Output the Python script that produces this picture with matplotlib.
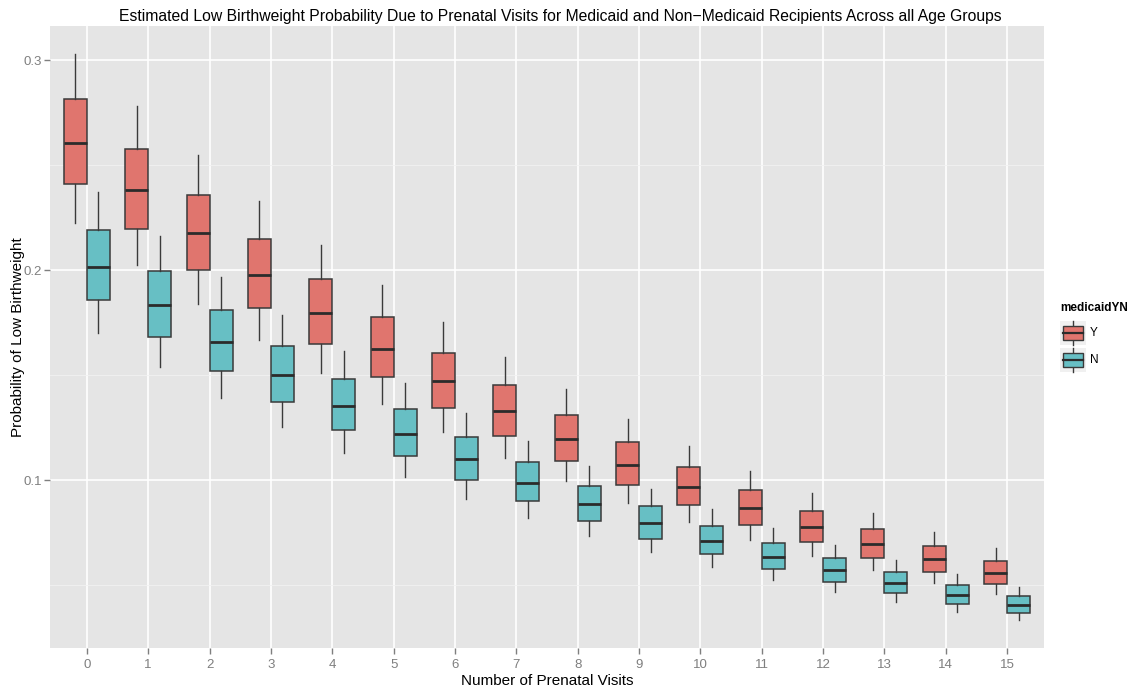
import numpy as np
import matplotlib
matplotlib.use("Agg")
import matplotlib.pyplot as plt
from matplotlib.patches import Rectangle, Patch
from matplotlib.lines import Line2D
from matplotlib.legend_handler import HandlerBase

plt.rcParams['font.family'] = ['Liberation Sans', 'DejaVu Sans']

visits = list(range(16))

# Medicaid = Y : whisker low, Q1, median, Q3, whisker high
y_wlo = [0.2225, 0.2025, 0.1840, 0.1667, 0.1508, 0.1362, 0.1227, 0.1106,
         0.0994, 0.0890, 0.0798, 0.0714, 0.0640, 0.0571, 0.0511, 0.0455]
y_q1 = [0.2411, 0.2198, 0.2001, 0.1818, 0.1646, 0.1489, 0.1343, 0.1211,
        0.1090, 0.0978, 0.0879, 0.0787, 0.0705, 0.0630, 0.0563, 0.0503]
y_med = [0.2608, 0.2384, 0.2175, 0.1976, 0.1795, 0.1625, 0.1470, 0.1327,
         0.1197, 0.1073, 0.0967, 0.0865, 0.0776, 0.0695, 0.0622, 0.0557]
y_q3 = [0.2814, 0.2579, 0.2357, 0.2149, 0.1956, 0.1775, 0.1605, 0.1451,
        0.1310, 0.1180, 0.1060, 0.0951, 0.0854, 0.0767, 0.0686, 0.0613]
y_whi = [0.3029, 0.2782, 0.2551, 0.2330, 0.2122, 0.1930, 0.1751, 0.1584,
         0.1432, 0.1290, 0.1162, 0.1044, 0.0937, 0.0841, 0.0754, 0.0675]

# Medicaid = N
n_wlo = [0.1701, 0.1540, 0.1390, 0.1252, 0.1129, 0.1016, 0.0910, 0.0819,
         0.0732, 0.0656, 0.0586, 0.0524, 0.0467, 0.0418, 0.0371, 0.0332]
n_q1 = [0.1856, 0.1681, 0.1519, 0.1373, 0.1238, 0.1113, 0.1002, 0.0900,
        0.0805, 0.0721, 0.0646, 0.0576, 0.0516, 0.0460, 0.0411, 0.0365]
n_med = [0.2016, 0.1832, 0.1659, 0.1501, 0.1354, 0.1219, 0.1098, 0.0987,
         0.0886, 0.0794, 0.0711, 0.0635, 0.0570, 0.0510, 0.0454, 0.0405]
n_q3 = [0.2190, 0.1995, 0.1810, 0.1640, 0.1482, 0.1337, 0.1205, 0.1084,
        0.0973, 0.0875, 0.0783, 0.0701, 0.0627, 0.0560, 0.0501, 0.0446]
n_whi = [0.2373, 0.2165, 0.1968, 0.1786, 0.1617, 0.1462, 0.1319, 0.1187,
         0.1068, 0.0959, 0.0860, 0.0770, 0.0689, 0.0618, 0.0552, 0.0492]

groups = ["Y", "N"]
colors = {"Y": "#E0756E", "N": "#67BFC4"}
edge = "#3A3A3A"


def make_stats(wlo, q1, med, q3, whi):
    return [dict(whislo=a, q1=b, med=c, q3=d, whishi=e, fliers=[])
            for a, b, c, d, e in zip(wlo, q1, med, q3, whi)]


fig = plt.figure(figsize=(11.31, 6.86), dpi=100)
ax = fig.add_axes([0.0442, 0.0547, 0.8789, 0.9074])
ax.set_facecolor("#E5E5E5")

x = np.array(visits)
w = 0.375
for stats, off, g in [(make_stats(y_wlo, y_q1, y_med, y_q3, y_whi), -w / 2, "Y"),
                      (make_stats(n_wlo, n_q1, n_med, n_q3, n_whi), w / 2, "N")]:
    ax.bxp(stats, positions=x + off, widths=w, showfliers=False, showcaps=False,
           patch_artist=True, manage_ticks=False,
           boxprops=dict(facecolor=colors[g], edgecolor=edge, linewidth=1.1),
           whiskerprops=dict(color=edge, linewidth=1.0),
           medianprops=dict(color="#2B2B2B", linewidth=2.0))

ax.set_xlim(-0.6, 15.6)
ax.set_ylim(0.0197, 0.3164)
ax.set_xticks(x)
ax.set_xticklabels([str(v) for v in visits])
ax.set_yticks([0.1, 0.2, 0.3])
ax.set_yticklabels(["0.1", "0.2", "0.3"])
ax.set_yticks([0.05, 0.15, 0.25], minor=True)
ax.set_xticks([], minor=True)
ax.grid(True, which="major", color="white", linewidth=1.2)
ax.grid(True, which="minor", axis="y", color="#F2F2F2", linewidth=0.6)
ax.set_axisbelow(True)
for s in ax.spines.values():
    s.set_visible(False)
ax.tick_params(axis="both", which="major", colors="#7F7F7F", labelsize=9.5,
               length=4, width=1, labelcolor="#7F7F7F")
ax.tick_params(axis="y", which="major", pad=2)
ax.tick_params(axis="y", which="minor", length=0)

ax.set_xlabel("Number of Prenatal Visits", fontsize=11, labelpad=2)
ax.set_ylabel("Probability of Low Birthweight", fontsize=11, labelpad=-1)
fig.text(560 / 1131, 1 - 17 / 686,
         "Estimated Low Birthweight Probability Due to Prenatal Visits for "
         "Medicaid and Non\u2212Medicaid Recipients Across all Age Groups",
         fontsize=11.3, ha="center", va="center")


class BoxHandler(HandlerBase):
    def create_artists(self, legend, orig_handle, xdescent, ydescent,
                       width, height, fontsize, trans):
        x0, y0 = -xdescent, -ydescent
        bg = Rectangle((x0, y0), width, height, facecolor="#F0F0F0",
                       edgecolor="none", transform=trans)
        cx = x0 + width / 2
        bx = Rectangle((x0 + 2, y0 + height * 0.2), width - 4, height * 0.6,
                       facecolor=orig_handle.get_facecolor(), edgecolor=edge,
                       linewidth=1.0, transform=trans)
        top = Line2D([cx, cx], [y0 + height * 0.8, y0 + height],
                     color=edge, linewidth=1.0, transform=trans)
        bot = Line2D([cx, cx], [y0, y0 + height * 0.2],
                     color=edge, linewidth=1.0, transform=trans)
        med = Line2D([x0 + 2, x0 + width - 2], [y0 + height / 2] * 2,
                     color="#2B2B2B", linewidth=1.6, transform=trans)
        return [bg, bot, top, bx, med]


handles = [Patch(facecolor=colors[g]) for g in groups]
leg = fig.legend(handles, groups, title="medicaidYN", loc="upper left",
                 bbox_to_anchor=(1060 / 1131, 1 - 302 / 686), frameon=False,
                 fontsize=8.5, handler_map={Patch: BoxHandler()},
                 handlelength=2.2, handleheight=2.75, labelspacing=0.25,
                 handletextpad=0.35, borderpad=0, borderaxespad=0,
                 title_fontproperties={"weight": "bold", "size": 8.5})
leg._legend_box.align = "left"
leg._legend_box.sep = 5

fig.savefig("out.png", dpi=100)
